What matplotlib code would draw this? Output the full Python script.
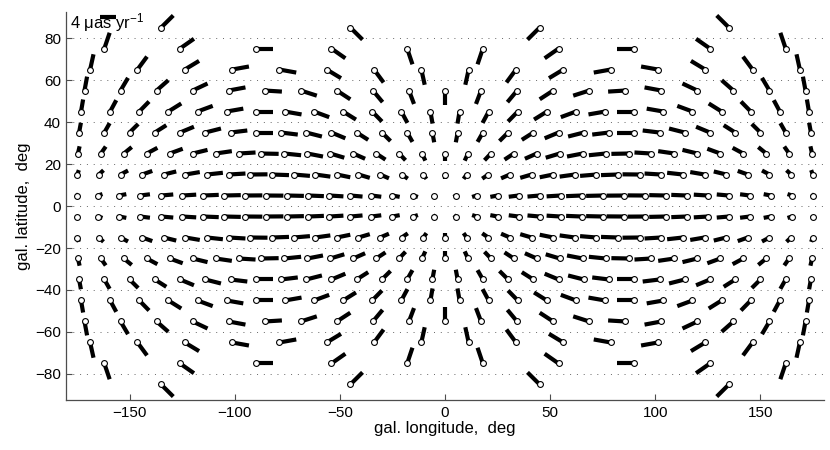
"""
Secular aberration drift field on a galactic equal-area grid
"""

import numpy as np
import matplotlib
matplotlib.use("Agg")
import matplotlib.pyplot as plt
from matplotlib.collections import LineCollection

plt.rcParams['font.family'] = ['Liberation Sans', 'DejaVu Sans']
plt.rcParams['mathtext.default'] = 'regular'

# ring latitudes (deg) and number of points on each ring, counted off the picture
ring_lat = [85, 75, 65, 55, 45, 35, 25, 15, 5, -5, -15, -25, -35, -45, -55, -65, -75, -85]
ring_count = [4, 10, 16, 21, 26, 30, 33, 35, 36, 36, 35, 33, 30, 26, 21, 16, 10, 4]

# the arrows all converge on the galactic centre: a dipole field whose
# apex and amplitude were read off the picture
apex_l = 0.0      # deg
apex_b = 0.0      # deg
amplitude = 4.3   # uas/yr
key_value = 4     # uas/yr
deg_per_unit = 1.9  # plot degrees per uas/yr

xticks = [-150, -100, -50, 0, 50, 100, 150]
yticks = [-80, -60, -40, -20, 0, 20, 40, 60, 80]


def glide(l_deg, b_deg):
    l = np.radians(l_deg)
    b = np.radians(b_deg)
    la, ba = np.radians(apex_l), np.radians(apex_b)
    g1 = amplitude * np.cos(ba) * np.cos(la)
    g2 = amplitude * np.cos(ba) * np.sin(la)
    g3 = amplitude * np.sin(ba)
    mul = -g1 * np.sin(l) + g2 * np.cos(l)
    mub = -g1 * np.cos(l) * np.sin(b) - g2 * np.sin(l) * np.sin(b) + g3 * np.cos(b)
    return mul, mub


lon, lat = [], []
for b, n in zip(ring_lat, ring_count):
    step = 360.0 / n
    lon.extend(-180 + step * (np.arange(n) + 0.5))
    lat.extend([b] * n)
lon = np.array(lon)
lat = np.array(lat)
mul, mub = glide(lon, lat)

fig = plt.figure(figsize=(8.3, 4.5), dpi=100)
ax = fig.add_axes([0.0801, 0.1111, 0.9121, 0.8622])

segs = [[(x, y), (x + deg_per_unit * u, y + deg_per_unit * v)]
        for x, y, u, v in zip(lon, lat, mul, mub)]
ax.add_collection(LineCollection(segs, colors='k', linewidths=3.0,
                                 capstyle='butt', zorder=3))
ax.plot(lon, lat, 'o', ms=4.2, mfc='white', mec='k', mew=0.8, zorder=4)

# scale key
ax.plot([-164, -164 + deg_per_unit * key_value], [90, 90], color='k', lw=3.0,
        solid_capstyle='butt', zorder=5, clip_on=False)
ax.text(-178.3, 84.6, r'4 μas yr$^{-1}$', fontsize=12, va='baseline', ha='left',
        zorder=6)

ax.set_xlim(-180, 180)
ax.set_ylim(-92.4, 92.4)
ax.set_xticks(xticks)
ax.set_yticks(yticks)
ax.yaxis.grid(True, linestyle=(0, (1, 6)), color='0.4', lw=0.7)
ax.set_axisbelow(True)
ax.tick_params(direction='in', length=4, width=0.8, color='0.3', labelsize=11, pad=4)
for side in ('top', 'right'):
    ax.spines[side].set_visible(False)
for side in ('left', 'bottom'):
    ax.spines[side].set_color('0.3')
    ax.spines[side].set_linewidth(0.9)

ax.set_xlabel('gal. longitude,  deg', fontsize=12, labelpad=1)
ax.set_ylabel('gal. latitude,  deg', fontsize=12, labelpad=3)

fig.savefig('out.png', dpi=100)
